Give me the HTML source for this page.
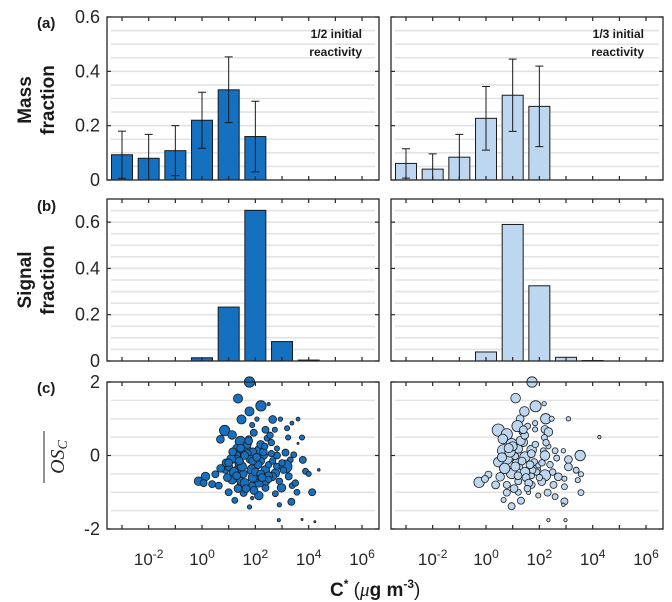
<!DOCTYPE html>
<html><head><meta charset="utf-8"><style>
body{margin:0;background:#fff;}
svg{display:block;font-family:"Liberation Sans",sans-serif;}
</style></head><body>
<svg id="fig" width="672" height="602" viewBox="0 0 672 602" xmlns="http://www.w3.org/2000/svg"></svg>
<script>
// ---- data ----
const decades = [-3,-2,-1,0,1,2,3,4,5,6];
const xTickLabels = ["-2","0","2","4","6"];
const massLeft = [0.093,0.08,0.108,0.22,0.332,0.16];
const massLeftErr = [0.087,0.088,0.092,0.103,0.121,0.13];
const massRight = [0.061,0.04,0.084,0.227,0.312,0.271];
const massRightErr = [0.054,0.056,0.084,0.117,0.133,0.148];
const signalLeft = [0,0,0,0.014,0.233,0.651,0.084,0.004,0,0];
const signalRight = [0,0,0,0.039,0.59,0.325,0.016,0.002,0,0];
const scLeftX = [1.78,1.35,2.21,1.78,2.5,1.48,2.65,2.06,2.94,3.37,3.6,3.19,1.88,2.38,2.73,0.85,1.13,0.69,1.44,1.94,2.44,3.23,3.75,3.6,1.63,2.13,2.81,1.25,1.81,2.31,2.81,3.13,3.44,3.78,3.31,3.13,3.88,4.38,4.0,0.88,1.38,1.88,2.38,2.75,0.5,0.13,-0.13,0.06,0.38,0.63,1.13,1.5,2.13,2.63,1.88,2.38,2.98,3.38,3.25,1.0,1.56,2.13,2.75,3.56,4.13,1.23,1.88,3.35,2.9,1.78,2.88,3.75,4.23,1.4,1.7,2.0,2.2,1.55,1.9,2.5,1.3,1.0,2.6,1.2,1.6,2.1,0.9,1.75,2.3,1.45,
 1.1,1.3,1.5,1.7,1.9,2.1,2.3,2.5,1.2,1.4,1.6,1.8,2.0,2.2,2.4,2.6,2.8,1.0,1.3,1.6,1.9,2.2,2.5,1.15,1.45,1.75,2.05,2.35,2.65,0.7,0.95,3.0,2.9,1.35,1.65,1.95,2.25,2.55,3.05,3.5];
const scLeftY = [2.0,1.55,1.35,1.2,1.4,0.98,0.98,0.99,0.99,0.88,0.99,0.74,0.83,0.7,0.7,0.68,0.56,0.44,0.38,0.62,0.47,0.49,0.49,0.33,0.15,0.15,0.19,0,0,0,0,0.08,0.02,-0.12,-0.12,-0.3,-0.43,-0.39,-0.5,-0.37,-0.39,-0.39,-0.39,-0.48,-0.51,-0.57,-0.7,-0.75,-0.78,-0.82,-0.66,-0.84,-0.7,-0.57,-0.82,-0.88,-0.88,-0.82,-0.57,-1.0,-1.02,-1.09,-1.04,-1.0,-1.0,-1.22,-1.16,-1.26,-1.34,-1.4,-1.76,-1.74,-1.8,-0.2,0.3,-0.6,-0.15,-0.5,0.1,-0.25,-0.1,-0.3,0.35,-0.45,-0.9,-0.55,-0.2,0.45,0.25,-0.7,
 -0.1,0.2,-0.3,0.05,-0.6,-0.25,0.1,-0.55,-0.45,-0.15,-0.75,-0.1,-0.45,0.3,-0.7,0.05,-0.3,-0.2,-0.55,0.0,-0.15,-0.5,-0.65,0.1,0.2,0.4,-0.05,0.25,-0.15,-0.35,-0.6,-0.2,-0.7,-0.9,-0.9,-0.95,-0.6,0.55,-0.4,-0.75];
const scLeftR = [4,3.5,4,3.5,1.3,3.5,3,1.7,1.7,1.5,1.5,2,2,2.7,2,4,3.3,3,4,2.7,2.3,2,2,0.8,4.5,3.3,2,4,4,3,2.7,2.7,2.3,2.7,2.3,5,2.3,1,2,3.3,4,4,3.3,3.3,2.7,3.3,3.3,2.7,2.7,2.7,3.3,4,4.5,3.3,2.7,2.7,3.3,2.3,2.7,2.7,2.7,3.3,2.3,2.3,2.7,2.3,1.3,2.7,1.7,1.7,1.3,0.8,0.8,3.5,3,3.5,3,3,3,2.5,3,3,2.5,3,2.5,3,3,2.5,2.5,3,
 3.5,3,3.5,3,3.5,3,3,3,3.5,3,3.5,3,3,3,3,2.5,2.5,3,3,3,3,3,2.5,3,3,3,3,2.5,2.5,3,3,2.5,2.5,3,3,3,3,2.5,2.5,2.5];
const scRightX = [1.725,1.11,1.86,2.18,1.44,1.28,2.24,2.46,3.09,1.18,1.84,1.84,1.56,2.21,2.34,0.46,0.78,1.34,4.25,0.63,2.19,0.96,1.4,2.34,0.66,1.21,1.71,2.15,2.59,2.9,3.53,3.09,2.65,2.21,1.46,0.78,0.46,1.15,1.81,1.09,3.09,3.38,3.56,2.21,2.71,2.94,0.09,-0.26,-0.04,0.53,0.96,1.46,1.9,1.71,1.21,0.78,0.36,1.71,2.09,2.53,2.94,3.44,0.78,1.21,1.59,1.96,2.31,2.59,3.56,0.66,1.31,0.96,2.94,2.9,2.34,2.98,1.96,1.28,
 0.9,1.1,1.3,1.5,1.7,1.9,2.1,0.7,1.0,1.35,1.6,1.85,2.4,0.6,1.2,1.45,1.75,2.0,2.5,0.85,1.05,1.55,2.25,1.4,1.65];
const scRightY = [2.0,1.56,1.34,1.41,1.2,1.0,1.0,1.0,1.0,0.8,0.88,0.71,0.8,0.71,0.64,0.69,0.58,0.63,0.5,0.45,0.49,0.31,0.36,0.25,0.13,0.18,0.15,0.13,0.13,0.13,0,-0.11,-0.07,0,-0.04,-0.09,-0.18,-0.2,-0.18,-0.02,-0.31,-0.4,-0.51,-0.54,-0.58,-0.63,-0.52,-0.73,-0.64,-0.58,-0.49,-0.45,-0.36,-0.55,-0.7,-0.8,-0.8,-0.8,-0.71,-0.8,-0.85,-0.67,-1.01,-1.0,-1.0,-1.09,-1.01,-1.12,-1.01,-1.21,-1.23,-1.38,-1.25,-1.34,-1.76,-1.76,-0.27,-0.31,
 0.1,-0.3,0.4,-0.6,0.05,-0.45,-0.2,-0.35,0.25,-0.15,-0.75,0.3,-0.25,-0.05,-0.55,0.55,-0.4,-0.6,-0.45,0.2,-0.9,-0.9,0.35,0.7,-0.25];
const scRightR = [4,3.7,4.3,1.7,3.7,3,4,2,1.7,4.3,2,2,2.3,3,3.3,4.7,4.3,2,1.3,3.7,2.3,4.3,3.3,2,4.7,3.3,3.7,2.3,2.3,1.7,4,3,2.3,3.7,4,4.3,3.7,3.3,2.7,2.7,3,2.3,2,4.3,3,2,2.7,4,2.7,3.3,4,3.7,3,2.3,2.7,2.7,3,2.7,3,2.7,2.3,2,2.7,2.3,1.7,2,2.7,2.3,2.3,2,2.7,2.7,2.7,1.3,1.3,1.3,2,2,
 4,3.5,3.5,3,3,2.5,2.5,4,3.5,3,3,2.5,2.5,3.5,3,3,2.5,2.5,2.5,3.5,3,2.5,2.5,3,3];

// ---- layout ----
const NS="http://www.w3.org/2000/svg";
const svg=document.getElementById('fig');
const RSCALE=1.3;
const cols=[{x0:107,x1:379,fill:"#1570bf",name:"left"},{x0:391,x1:663,fill:"#bdd7f1",name:"right"}];
const rows=[{y0:17,y1:180,min:0,max:0.6,grid:0.05,ticks:[0,0.2,0.4,0.6],tl:["0","0.2","0.4","0.6"]},
            {y0:199,y1:361,min:0,max:0.7,grid:0.05,ticks:[0,0.2,0.4,0.6],tl:["0","0.2","0.4","0.6"]},
            {y0:382,y1:529,min:-2,max:2,grid:0.5,ticks:[-2,0,2],tl:["-2","0","2"]}];
function mk(tag,attrs,parent){const e=document.createElementNS(NS,tag);for(const k in attrs)e.setAttribute(k,attrs[k]);(parent||svg).appendChild(e);return e;}
function xs(c,v){return c.x0+15+(v+3)*26.67;}
function ys(r,v){return r.y1-(v-r.min)/(r.max-r.min)*(r.y1-r.y0);}

rows.forEach((r,ri)=>{
 cols.forEach((c,ci)=>{
  const g=mk('g',{});
  
  
  for(let v=r.min+r.grid;v<r.max-1e-9;v+=r.grid){
    const y=ys(r,v);
    const l=mk('line',{x1:c.x0+4,x2:c.x1-4,y1:y,y2:y,stroke:"#e3e3e3","stroke-width":1.6},g);
    
    
  }
  if(ri<2){
    const vals = ri==0 ? (ci==0?massLeft:massRight) : (ci==0?signalLeft:signalRight);
    const errs = ri==0 ? (ci==0?massLeftErr:massRightErr) : null;
    vals.forEach((v,i)=>{
      if(v<=0) return;
      const xc=xs(c,decades[i]);
      const y=ys(r,v);
      const b=mk('rect',{x:xc-10.5,y:y,width:21,height:r.y1-y,fill:c.fill,stroke:"#1a1a1a","stroke-width":1},g);
      
      
      if(errs){
        const yt=ys(r,v+errs[i]), yb=ys(r,Math.max(0,v-errs[i]));
        const e=mk('path',{d:`M${xc},${yt}V${yb}M${xc-4},${yt}H${xc+4}M${xc-4},${yb}H${xc+4}`,stroke:"#1a1a1a","stroke-width":1,fill:"none"},g);
        
        
      }
    });
  } else {
    const X=ci==0?scLeftX:scRightX, Y=ci==0?scLeftY:scRightY, R=ci==0?scLeftR:scRightR;
    X.forEach((v,i)=>{
      const p=mk('circle',{cx:xs(c,v),cy:ys(r,Y[i]),r:R[i]*RSCALE,fill:c.fill,stroke:"#1a1a1a","stroke-width":0.8},g);
      
      
    });
  }
  const f=mk('rect',{x:c.x0,y:r.y0,width:c.x1-c.x0,height:r.y1-r.y0,fill:"none",stroke:"#262626","stroke-width":1.3},g);
  
  
  decades.forEach(d=>{
    const x=xs(c,d);
    mk('line',{x1:x,x2:x,y1:r.y0,y2:r.y0+4,stroke:"#262626","stroke-width":1.2},g);
    mk('line',{x1:x,x2:x,y1:r.y1,y2:r.y1-4,stroke:"#262626","stroke-width":1.2},g);
  });
  r.ticks.forEach((t,ti)=>{
    const y=ys(r,t);
    mk('line',{x1:c.x0,x2:c.x0+4,y1:y,y2:y,stroke:"#262626","stroke-width":1.2},g);
    mk('line',{x1:c.x1,x2:c.x1-4,y1:y,y2:y,stroke:"#262626","stroke-width":1.2},g);
    if(ci==0){
      const t2=mk('text',{x:c.x0-7,y:y+6,"text-anchor":"end","font-size":18,fill:"#262626"},g);
      t2.textContent=r.tl[ti];
      
      
    }
  });
  if(ri==2){
    xTickLabels.forEach(e=>{
      const x=xs(c,+e);
      const t=mk('text',{x:x,y:565,"text-anchor":"middle","font-size":17,fill:"#262626"},g);
      t.innerHTML='10<tspan dy="-7" font-size="12">'+e+'</tspan>';
      
      
    });
  }
 });
});
</script>
<div style="position:absolute;left:0;top:0;width:672px;height:602px;pointer-events:none">
<svg width="672" height="602" style="position:absolute;left:0;top:0" xmlns="http://www.w3.org/2000/svg">
 <g font-family="Liberation Sans, sans-serif" font-weight="bold" fill="#1a1a1a">
  <text x="37" y="28" font-size="15">(a)</text>
  <text x="37" y="211" font-size="15">(b)</text>
  <text x="37" y="393" font-size="15">(c)</text>
  <text transform="translate(31,100) rotate(-90)" text-anchor="middle" font-size="19">Mass</text>
  <text transform="translate(54,100) rotate(-90)" text-anchor="middle" font-size="19">fraction</text>
  <text transform="translate(31,280) rotate(-90)" text-anchor="middle" font-size="19">Signal</text>
  <text transform="translate(54,280) rotate(-90)" text-anchor="middle" font-size="19">fraction</text>
  <text x="362" y="38" text-anchor="end" font-size="12">1/2 initial</text>
  <text x="362" y="56" text-anchor="end" font-size="12">reactivity</text>
  <text x="644" y="38" text-anchor="end" font-size="12">1/3 initial</text>
  <text x="644" y="56" text-anchor="end" font-size="12">reactivity</text>
  <text x="330" y="596" font-size="19">C<tspan dy="-8" font-size="12">*</tspan><tspan dy="8" font-weight="normal">  (</tspan><tspan font-family="Liberation Serif, serif" font-style="italic" font-weight="normal">μ</tspan>g m<tspan dy="-8" font-size="12">-3</tspan><tspan dy="8" font-weight="normal">)</tspan></text>
 </g>
 <g>
  <text transform="translate(64,457) rotate(-90)" text-anchor="middle" font-family="Liberation Serif, serif" font-style="italic" font-size="20" fill="#262626">OS<tspan font-size="14" dy="3">C</tspan></text>
  <line x1="44" x2="44" y1="431" y2="483" stroke="#262626" stroke-width="1"/>
 </g>
</svg>
</div>
</body></html>
